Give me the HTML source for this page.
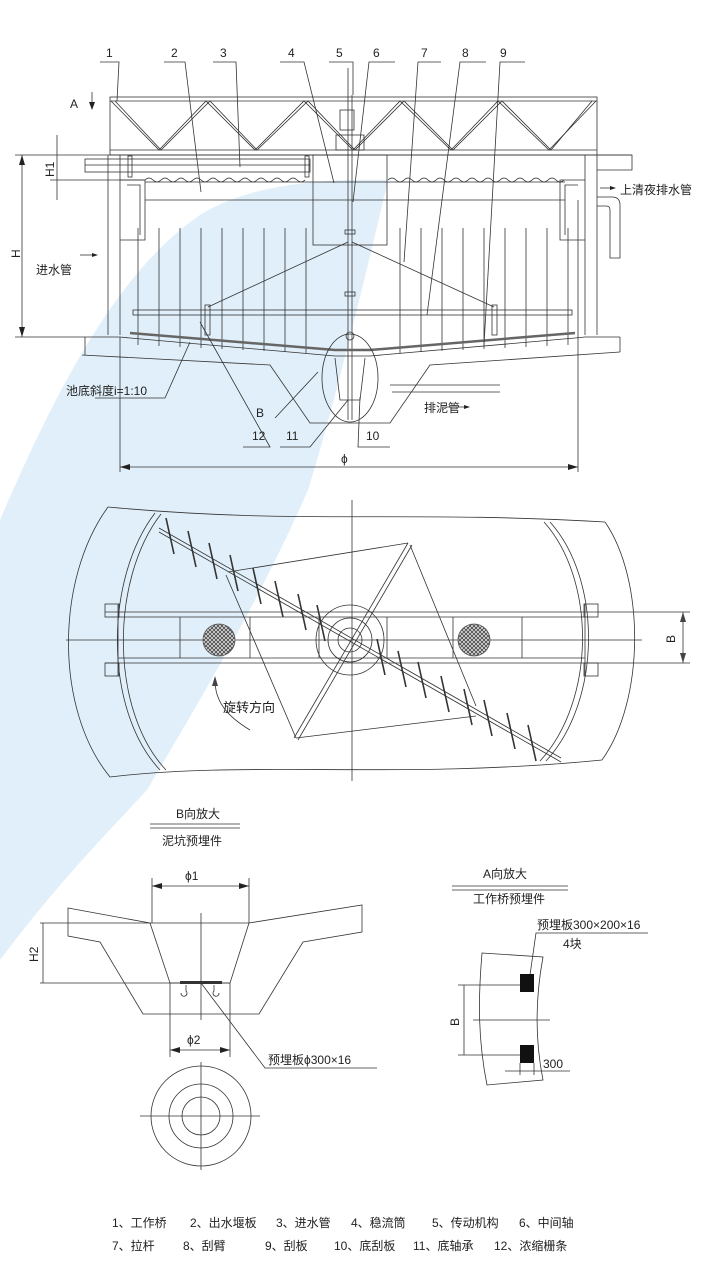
<!DOCTYPE html>
<html><head><meta charset="utf-8"><style>
html,body{margin:0;padding:0;background:#fff;}
svg{display:block;}
text{font-family:"Liberation Sans","Noto Sans CJK SC",sans-serif;fill:#222;}
</style></head><body>
<svg width="722" height="1286" viewBox="0 0 722 1286" xmlns="http://www.w3.org/2000/svg">
<defs>
<pattern id="hx" width="4" height="4" patternUnits="userSpaceOnUse">
<rect width="4" height="4" fill="#ddd"/>
<path d="M0,4 L4,0 M0,0 L4,4" stroke="#444" stroke-width="0.8"/>
</pattern>
</defs>
<!-- blue band -->
<path d="M388,180 C300,178 240,190 200,215 C120,270 60,380 0,520 L0,960 C60,880 110,830 147,790 C200,700 260,600 308,490 C330,420 360,300 388,180 Z" fill="#e0eff9"/>

<g stroke="#333" stroke-width="0.8" fill="none">
<!-- truss -->
<rect x="110" y="97" width="487" height="58"/>
<line x1="110" y1="101" x2="597" y2="101"/>
<line x1="110" y1="150" x2="597" y2="150"/>
<polyline points="111,101 159,150 206,101 255,150 304,101 353,150 400,101 451,150 498,101 549,150 596,101"/>
<polyline points="115,101 161,150 210,101 257,150 308,101 355,150 404,101 453,150 502,101 551,150 592,101"/>
<line x1="108" y1="155" x2="632" y2="155"/>
<polyline points="597,155 632,155 632,170 597,170"/>
<line x1="108" y1="155" x2="108" y2="335"/>
<line x1="120" y1="155" x2="120" y2="335"/>
<line x1="585" y1="155" x2="585" y2="335"/>
<line x1="597" y1="155" x2="597" y2="335"/>
<rect x="85" y="159" width="225" height="13"/>
<line x1="85" y1="165" x2="310" y2="165"/>
<rect x="128" y="156" width="4" height="21"/>
<rect x="305" y="156" width="4" height="21"/>
<path d="M145,180 q4,-4 8,0 t8,0 t8,0 t8,0 t8,0 t8,0 t8,0 t8,0 t8,0 t8,0 t8,0 t8,0 t8,0 t8,0 t8,0 t8,0 t8,0 t8,0 t8,0 t8,0"/>
<path d="M388,180 q4,-4 8,0 t8,0 t8,0 t8,0 t8,0 t8,0 t8,0 t8,0 t8,0 t8,0 t8,0 t8,0 t8,0 t8,0 t8,0 t8,0 t8,0 t8,0 t8,0 t8,0 t8,0 t8,0"/>
<line x1="145" y1="182" x2="565" y2="182"/>
<line x1="145" y1="200" x2="565" y2="200"/>
<polyline points="120,180 145,180 145,240 120,240"/>
<polyline points="127,185 140,185 140,235"/>
<polyline points="585,180 560,180 560,240 585,240"/>
<polyline points="578,185 565,185 565,235"/>
<path d="M597,197 L612,197 Q620,197 620,205 L620,258 L610,258 L610,210 Q610,206 606,206 L597,206"/>
<rect x="313" y="155" width="74" height="90"/>
<line x1="348" y1="68" x2="348" y2="420"/>
<line x1="352" y1="95" x2="352" y2="420"/>
<rect x="340" y="110" width="14" height="20"/>
<rect x="336" y="135" width="28" height="15"/>
<rect x="345" y="230" width="10" height="4"/>
<rect x="345" y="292" width="10" height="4"/>
<circle cx="350" cy="336" r="4"/>
<g>
<line x1="138" y1="228" x2="138" y2="345"/><line x1="159" y1="228" x2="159" y2="346"/><line x1="180" y1="228" x2="180" y2="347"/><line x1="201" y1="228" x2="201" y2="348"/><line x1="222" y1="228" x2="222" y2="349"/><line x1="243" y1="228" x2="243" y2="350"/><line x1="264" y1="228" x2="264" y2="351"/><line x1="285" y1="228" x2="285" y2="352"/><line x1="306" y1="228" x2="306" y2="353"/>
<line x1="400" y1="228" x2="400" y2="353"/><line x1="421" y1="228" x2="421" y2="352"/><line x1="442" y1="228" x2="442" y2="351"/><line x1="463" y1="228" x2="463" y2="350"/><line x1="484" y1="228" x2="484" y2="349"/><line x1="505" y1="228" x2="505" y2="348"/><line x1="526" y1="228" x2="526" y2="347"/><line x1="547" y1="228" x2="547" y2="346"/><line x1="568" y1="228" x2="568" y2="345"/>
</g>
<rect x="133" y="310" width="439" height="5"/>
<line x1="348" y1="242" x2="208" y2="307"/>
<line x1="352" y1="242" x2="494" y2="307"/>
<rect x="205" y="305" width="5" height="30"/>
<rect x="492" y="305" width="5" height="30"/>
<polyline points="130,333 335,350 370,350 575,333" stroke-width="2.5" stroke="#666"/>
<polyline points="130,338 335,356 370,356 575,338"/>
<polyline points="85,337 120,337 130,338"/>
<polyline points="575,338 585,337 620,337"/>
<line x1="85" y1="337" x2="85" y2="355"/>
<line x1="620" y1="337" x2="620" y2="352"/>
<polyline points="82,355 270,365 310,423 390,423 430,365 620,352"/>
<line x1="390" y1="385" x2="500" y2="385"/>
<line x1="392" y1="392" x2="500" y2="392"/>
<ellipse cx="350" cy="378" rx="28" ry="44"/>
<polyline points="335,358 340,400 360,400 365,358"/>
<line x1="15" y1="155" x2="108" y2="155"/>
<line x1="15" y1="337" x2="85" y2="337"/>
<line x1="22" y1="155" x2="22" y2="337"/>
<line x1="50" y1="180" x2="145" y2="180"/>
<line x1="57" y1="135" x2="57" y2="200"/>
<line x1="120" y1="337" x2="120" y2="472"/>
<line x1="578" y1="200" x2="578" y2="472"/>
<line x1="120" y1="467" x2="578" y2="467"/>
<line x1="92" y1="92" x2="92" y2="108"/>
<polyline points="100,62 119,62 117,101"/>
<polyline points="164,62 185,62 201,192"/>
<polyline points="213,62 236,62 240,167"/>
<polyline points="280,62 304,62 334,183"/>
<polyline points="329,62 353,62 353,95"/>
<polyline points="395,62 369,62 353,202"/>
<polyline points="441,62 418,62 404,262"/>
<polyline points="486,62 460,62 427,315"/>
<polyline points="525,62 500,62 484,345"/>
<polyline points="95,398 165,398 190,342"/>
<polyline points="243,447 270,447 200,322"/>
<polyline points="280,447 310,447 348,400"/>
<polyline points="390,447 358,447 360,397"/>
<polyline points="275,418 318,372"/>
<line x1="443" y1="407" x2="468" y2="407"/>
<line x1="600" y1="188" x2="614" y2="188"/>
<line x1="80" y1="255" x2="96" y2="255"/>
</g>
<g fill="#222">
<polygon points="120,467 130,464 130,470"/><polygon points="578,467 568,464 568,470"/>
<polygon points="22,155 19,165 25,165"/><polygon points="22,337 19,327 25,327"/>
<polygon points="92,110 89,102 95,102"/>
<polygon points="470,407 464,405 464,409"/><polygon points="616,188 610,186 610,190"/><polygon points="98,255 92,253 92,257"/>
</g>
<g font-size="12">
<text x="106" y="57">1</text><text x="171" y="57">2</text><text x="220" y="57">3</text><text x="288" y="57">4</text><text x="336" y="57">5</text><text x="373" y="57">6</text><text x="421" y="57">7</text><text x="462" y="57">8</text><text x="500" y="57">9</text>
<text x="70" y="108">A</text>
<text x="620" y="194">上清夜排水管</text>
<text x="36" y="274">进水管</text>
<text x="66" y="395">池底斜度i=1:10</text>
<text x="256" y="417">B</text>
<text x="424" y="412">排泥管</text>
<text x="252" y="440">12</text><text x="286" y="440">11</text><text x="366" y="440">10</text>
<text x="341" y="463">ϕ</text>
<text transform="translate(20,258) rotate(-90)">H</text>
<text transform="translate(54,177) rotate(-90)">H1</text>
</g>

<!-- plan view -->
<g stroke="#333" stroke-width="0.8" fill="none">
<path d="M108,507 C300,525 400,510 605,522"/>
<path d="M110,777 C250,760 400,780 602,760"/>
<path d="M108,507 C55,580 55,710 110,777"/>
<path d="M605,522 C645,580 645,700 602,760"/>
<path d="M161,514 C110,580 110,710 166,770"/>
<path d="M155,513 C104,580 104,710 160,770"/>
<path d="M544,522 C596,580 596,700 540,761"/>
<path d="M550,522 C602,580 602,700 546,761"/>
<line x1="105" y1="612" x2="598" y2="612"/>
<line x1="118" y1="617" x2="585" y2="617"/>
<line x1="118" y1="658" x2="585" y2="658"/>
<line x1="105" y1="663" x2="598" y2="663"/>
<line x1="180" y1="617" x2="180" y2="658"/><line x1="250" y1="617" x2="250" y2="658"/><line x1="319" y1="617" x2="319" y2="658"/><line x1="387" y1="617" x2="387" y2="658"/><line x1="453" y1="617" x2="453" y2="658"/><line x1="522" y1="617" x2="522" y2="658"/>
<rect x="105" y="604" width="14" height="13"/><rect x="105" y="663" width="14" height="13"/>
<rect x="584" y="604" width="14" height="13"/><rect x="584" y="663" width="14" height="13"/>
<line x1="118" y1="604" x2="118" y2="676"/><line x1="585" y1="604" x2="585" y2="676"/>
<line x1="66" y1="640" x2="642" y2="640"/>
<line x1="352" y1="500" x2="352" y2="781"/>
<line x1="598" y1="612" x2="690" y2="612"/><line x1="598" y1="663" x2="690" y2="663"/>
<line x1="683" y1="612" x2="683" y2="663"/>
<ellipse cx="350" cy="640" rx="34" ry="35"/>
<circle cx="350" cy="640" r="22"/>
<circle cx="350" cy="640" r="12"/>
<line x1="159" y1="528" x2="561" y2="758"/>
<line x1="159" y1="532" x2="561" y2="762"/>
<g stroke-width="1.6">
<line x1="166" y1="518" x2="174" y2="554"/><line x1="188" y1="531" x2="196" y2="567"/><line x1="209" y1="543" x2="217" y2="579"/><line x1="230" y1="555" x2="238" y2="591"/><line x1="253" y1="568" x2="261" y2="604"/><line x1="275" y1="581" x2="283" y2="617"/><line x1="298" y1="594" x2="306" y2="630"/><line x1="317" y1="605" x2="325" y2="641"/>
<line x1="377" y1="639" x2="385" y2="675"/><line x1="398" y1="651" x2="406" y2="687"/><line x1="418" y1="662" x2="426" y2="698"/><line x1="441" y1="676" x2="449" y2="712"/><line x1="464" y1="689" x2="472" y2="725"/><line x1="484" y1="700" x2="492" y2="736"/><line x1="507" y1="713" x2="515" y2="749"/><line x1="528" y1="725" x2="536" y2="761"/>
</g>
<line x1="408" y1="543" x2="228" y2="572"/>
<line x1="410" y1="545" x2="476" y2="706"/>
<line x1="408" y1="543" x2="294" y2="738"/>
<line x1="412" y1="545" x2="298" y2="740"/>
<line x1="296" y1="738" x2="226" y2="575"/>
<line x1="296" y1="738" x2="476" y2="716"/>
<path d="M250,730 C225,715 215,700 215,680"/>
</g>
<circle cx="219" cy="640" r="16" fill="url(#hx)" stroke="#555" stroke-width="0.8"/>
<circle cx="474" cy="640" r="16" fill="url(#hx)" stroke="#555" stroke-width="0.8"/>
<g fill="#444">
<polygon points="215,676 212,686 218,686"/>
<polygon points="683,612 680,622 686,622"/><polygon points="683,663 680,653 686,653"/>
</g>
<text x="223" y="712" font-size="13">旋转方向</text>
<text transform="translate(675,643) rotate(-90)" font-size="12">B</text>

<!-- B detail -->
<g stroke="#333" stroke-width="0.8" fill="none">
<line x1="150" y1="824" x2="240" y2="824"/><line x1="150" y1="828" x2="240" y2="828"/>
<polygon points="68,908 150,923 170,983 230,983 249,923 362,905 362,932 303,942 259,1014 143,1014 100,942 68,936"/>
<line x1="40" y1="923" x2="249" y2="923"/>
<line x1="40" y1="983" x2="230" y2="983"/>
<line x1="170" y1="983" x2="170" y2="1057"/><line x1="230" y1="983" x2="230" y2="1057"/>
<line x1="152" y1="878" x2="152" y2="923"/><line x1="249" y1="878" x2="249" y2="923"/>
<line x1="152" y1="886" x2="249" y2="886"/>
<line x1="170" y1="1050" x2="230" y2="1050"/>
<line x1="201" y1="913" x2="201" y2="1020"/>
<polyline points="201,983 265,1068 377,1068"/>
<line x1="43" y1="923" x2="43" y2="983"/>
<circle cx="201" cy="1116" r="50"/><circle cx="201" cy="1116" r="32"/><circle cx="201" cy="1116" r="19"/>
<line x1="140" y1="1116" x2="260" y2="1116"/><line x1="201" y1="1062" x2="201" y2="1170"/>
<path d="M186,985 v6 a3,3 0 1,1 -5,2"/><path d="M214,985 v6 a3,3 0 1,0 5,2"/>
</g>
<rect x="180" y="981" width="42" height="3" fill="#333"/>
<g fill="#222"><polygon points="152,886 162,883 162,889"/><polygon points="249,886 239,883 239,889"/><polygon points="170,1050 180,1047 180,1053"/><polygon points="230,1050 220,1047 220,1053"/></g>
<g font-size="12">
<text x="176" y="818">B向放大</text>
<text x="162" y="845">泥坑预埋件</text>
<text x="185" y="880">ϕ1</text>
<text x="187" y="1044">ϕ2</text>
<text x="268" y="1064">预埋板ϕ300×16</text>
<text transform="translate(38,962) rotate(-90)">H2</text>
</g>

<!-- A detail -->
<g stroke="#333" stroke-width="0.8" fill="none">
<line x1="452" y1="886" x2="568" y2="886"/><line x1="452" y1="890" x2="568" y2="890"/>
<path d="M482,953 L543,957 C535,1000 535,1040 543,1080 L487,1085 C478,1040 478,1000 482,953 Z"/>
<polyline points="530,975 536,933 648,933"/>
<line x1="458" y1="985" x2="520" y2="985"/><line x1="458" y1="1055" x2="520" y2="1055"/>
<line x1="464" y1="985" x2="464" y2="1055"/>
<line x1="473" y1="1020" x2="550" y2="1020"/>
<line x1="505" y1="1071" x2="570" y2="1071"/>
<line x1="520" y1="1063" x2="520" y2="1075"/><line x1="534" y1="1063" x2="534" y2="1075"/>
</g>
<rect x="520" y="974" width="14" height="18" fill="#111"/>
<rect x="520" y="1045" width="14" height="18" fill="#111"/>
<g font-size="12">
<text x="483" y="878">A向放大</text>
<text x="473" y="903">工作桥预埋件</text>
<text x="537" y="929">预埋板300×200×16</text>
<text x="563" y="948">4块</text>
<text x="543" y="1068">300</text>
<text transform="translate(459,1026) rotate(-90)">B</text>
</g>

<g font-size="12">
<text x="112" y="1227">1、工作桥</text><text x="190" y="1227">2、出水堰板</text><text x="276" y="1227">3、进水管</text><text x="351" y="1227">4、稳流筒</text><text x="432" y="1227">5、传动机构</text><text x="519" y="1227">6、中间轴</text>
<text x="112" y="1250">7、拉杆</text><text x="183" y="1250">8、刮臂</text><text x="265" y="1250">9、刮板</text><text x="334" y="1250">10、底刮板</text><text x="413" y="1250">11、底轴承</text><text x="494" y="1250">12、浓缩栅条</text>
</g>
</svg>
</body></html>
